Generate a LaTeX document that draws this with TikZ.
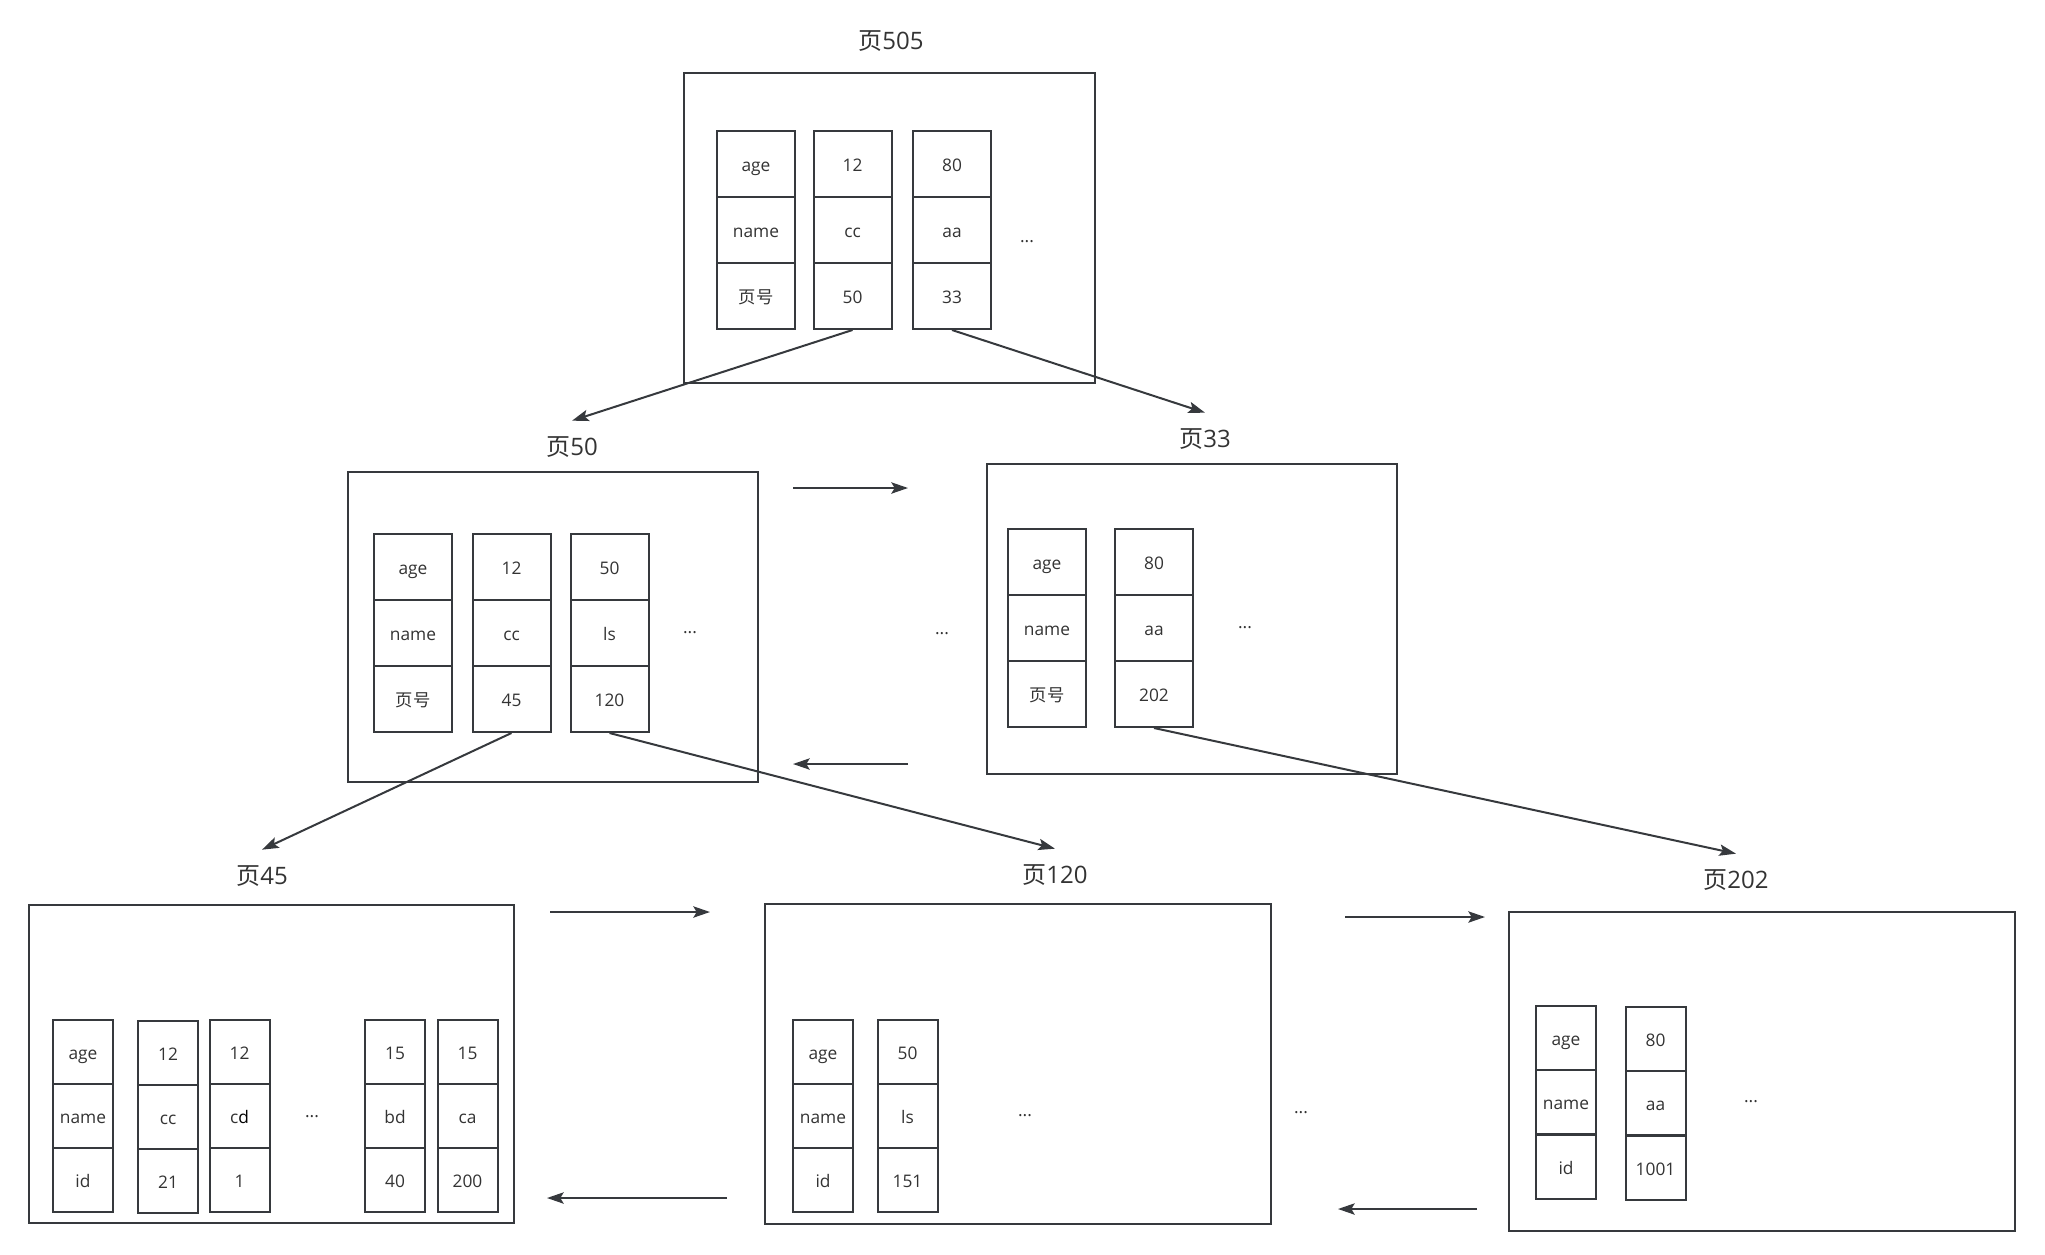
\documentclass[tikz,border=0pt]{standalone}
\usepackage{fontspec}
\setmainfont{Open Sans}
\newfontfamily\cjk{Noto Sans CJK SC}
\usepackage{tikz}
\usetikzlibrary{arrows.meta}

\definecolor{linegray}{RGB}{54,57,61}
\definecolor{textgray}{RGB}{51,51,51}

\begin{document}
\begin{tikzpicture}[x=0.75pt,y=0.75pt,yscale=-1,xscale=1,
    cell/.style={draw=linegray,line width=1.5pt,text=textgray,font=\fontsize{13}{15}\selectfont,minimum width=58.5pt,minimum height=49.5pt,inner sep=0pt,text height=11pt,text depth=0pt},
    leafcell/.style={cell,minimum width=45pt,minimum height=48pt},
    pagename/.style={text=textgray,font=\fontsize{18}{20}\selectfont,inner sep=0pt,outer sep=12pt,text height=14pt,text depth=3pt},
    more/.style={text=textgray,font=\fontsize{13}{15}\selectfont,inner sep=0pt},
    page/.style={draw=linegray,line width=1.5pt},
    link/.style={draw=linegray,line width=1.5pt,-{Stealth[length=12.5pt,width=8.5pt,inset=2.5pt]}}]
    \useasboundingbox (0,0) rectangle (2045,1254);

    % Page 505 (root)
    \draw[page] (684,73) rectangle (1095,383);
    \node[pagename] (lbl505) at (891,42) {{\cjk 页}505};
    \node[cell] (p505c1r1) at (756,164) {age};
    \node[cell] (p505c1r2) at (756,230) {name};
    \node[cell] (p505c1r3) at (756,296) {\cjk 页号};
    \node[cell] (p505c2r1) at (852.5,164) {12};
    \node[cell] (p505c2r2) at (852.5,230) {cc};
    \node[cell] (p505c2r3) at (852.5,296) {50};
    \node[cell] (p505c3r1) at (952,164) {80};
    \node[cell] (p505c3r2) at (952,230) {aa};
    \node[cell] (p505c3r3) at (952,296) {33};
    \node[more] (dots505) at (1027,242) {...};

    % Page 50
    \draw[page] (348,472) rectangle (758,782);
    \node[pagename] (lbl50) at (572,448) {{\cjk 页}50};
    \node[cell] (p50c1r1) at (413,567) {age};
    \node[cell] (p50c1r2) at (413,633) {name};
    \node[cell] (p50c1r3) at (413,699) {\cjk 页号};
    \node[cell] (p50c2r1) at (511.5,567) {12};
    \node[cell] (p50c2r2) at (511.5,633) {cc};
    \node[cell] (p50c2r3) at (511.5,699) {45};
    \node[cell] (p50c3r1) at (609.5,567) {50};
    \node[cell] (p50c3r2) at (609.5,633) {ls};
    \node[cell] (p50c3r3) at (609.5,699) {120};
    \node[more] (dots50) at (690,633) {...};

    \node[more] (dotsmid) at (942,634) {...};

    % Page 33
    \draw[page] (987,464) rectangle (1397,774);
    \node[pagename] (lbl33) at (1205,440) {{\cjk 页}33};
    \node[cell] (p33c1r1) at (1047,562) {age};
    \node[cell] (p33c1r2) at (1047,628) {name};
    \node[cell] (p33c1r3) at (1047,694) {\cjk 页号};
    \node[cell] (p33c2r1) at (1154,562) {80};
    \node[cell] (p33c2r2) at (1154,628) {aa};
    \node[cell] (p33c2r3) at (1154,694) {202};
    \node[more] (dots33) at (1245,628) {...};

    % Page 45 (leaf)
    \draw[page] (29,905) rectangle (514,1223);
    \node[pagename] (lbl45) at (262,877) {{\cjk 页}45};
    \node[leafcell] (p45c1r1) at (83,1052) {age};
    \node[leafcell] (p45c1r2) at (83,1116) {name};
    \node[leafcell] (p45c1r3) at (83,1180) {id};
    \node[leafcell] (p45c2r1) at (168,1053) {12};
    \node[leafcell] (p45c2r2) at (168,1117) {cc};
    \node[leafcell] (p45c2r3) at (168,1181) {21};
    \node[leafcell] (p45c3r1) at (239.5,1052) {12};
    \node[leafcell] (p45c3r2) at (239.5,1116) {c\textcolor{black}{d}};
    \node[leafcell] (p45c3r3) at (239.5,1180) {1};
    \node[more] (dots45) at (312,1117) {...};
    \node[leafcell] (p45c4r1) at (395,1052) {15};
    \node[leafcell] (p45c4r2) at (395,1116) {bd};
    \node[leafcell] (p45c4r3) at (395,1180) {40};
    \node[leafcell] (p45c5r1) at (467.5,1052) {15};
    \node[leafcell] (p45c5r2) at (467.5,1116) {ca};
    \node[leafcell] (p45c5r3) at (467.5,1180) {200};

    % Page 120 (leaf)
    \draw[page] (765,904) rectangle (1271,1224);
    \node[pagename] (lbl120) at (1055,876) {{\cjk 页}120};
    \node[leafcell] (p120c1r1) at (823,1052) {age};
    \node[leafcell] (p120c1r2) at (823,1116) {name};
    \node[leafcell] (p120c1r3) at (823,1180) {id};
    \node[leafcell] (p120c2r1) at (907.5,1052) {50};
    \node[leafcell] (p120c2r2) at (907.5,1116) {ls};
    \node[leafcell] (p120c2r3) at (907.5,1180) {151};
    \node[more] (dots120) at (1025,1116) {...};

    \node[more] (dotsleaf) at (1301,1113) {...};

    % Page 202 (leaf)
    \draw[page] (1509,912) rectangle (2015,1231);
    \node[pagename] (lbl202) at (1736,881) {{\cjk 页}202};
    \node[leafcell] (p202c1r1) at (1566,1038) {age};
    \node[leafcell] (p202c1r2) at (1566,1102) {name};
    \node[leafcell] (p202c1r3) at (1566,1167) {id};
    \node[leafcell] (p202c2r1) at (1655.5,1039) {80};
    \node[leafcell] (p202c2r2) at (1655.5,1103) {aa};
    \node[leafcell] (p202c2r3) at (1655.5,1168) {1001};
    \node[more] (dots202) at (1751,1102) {...};

    % child pointers
    \draw[link] (p505c2r3.south) -- (lbl50.north);
    \draw[link] (p505c3r3.south) -- (lbl33.north);
    \draw[link] (p50c2r3.south) -- (lbl45.north);
    \draw[link] (p50c3r3.south) -- (lbl120.north);
    \draw[link] (p33c2r3.south) -- (lbl202.north);

    % sibling pointers
    \coordinate (nxt50) at (793,488);   \coordinate (prv33) at (908,488);
    \coordinate (nxt33) at (908,764);   \coordinate (prv50) at (793,764);
    \coordinate (nxt45) at (550,912);   \coordinate (prv120) at (710,912);
    \coordinate (nxt120) at (727,1198); \coordinate (prv45) at (547,1198);
    \coordinate (nxt120b) at (1345,917); \coordinate (prv202) at (1485,917);
    \coordinate (nxt202) at (1477,1209); \coordinate (prv120b) at (1338,1209);
    \draw[link] (nxt50) -- (prv33);
    \draw[link] (nxt33) -- (prv50);
    \draw[link] (nxt45) -- (prv120);
    \draw[link] (nxt120) -- (prv45);
    \draw[link] (nxt120b) -- (prv202);
    \draw[link] (nxt202) -- (prv120b);

\end{tikzpicture}
\end{document}
